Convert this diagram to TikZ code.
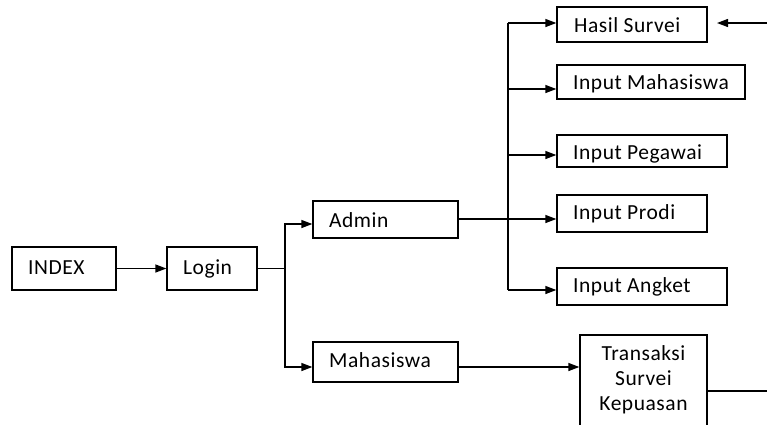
\documentclass[tikz,border=0pt]{standalone}
\usepackage{fontspec}
\setmainfont[LetterSpace=2.5]{Carlito}
\usetikzlibrary{arrows.meta,calc}
\tikzset{
  box/.style={draw=black, line width=1.3pt, rectangle, inner sep=0pt, fill=white},
  txt/.style={anchor=base west, inner sep=0pt, font=\fontsize{21.5}{25}\selectfont},
  ctxt/.style={anchor=base, inner sep=0pt, font=\fontsize{21.5}{25}\selectfont},
  ln/.style={line width=1.3pt, black},
  arr/.style={ln, -{Triangle[length=11pt,width=8pt]}},
}
\begin{document}
\begin{tikzpicture}[x=1pt,y=-1pt]
\clip (0,0) rectangle (767,424);
\fill[white] (0,0) rectangle (767,424);
% boxes
\node[box, minimum width=104pt, minimum height=43pt] (index) at (64,268.5) {};
\node[box, minimum width=90pt, minimum height=43pt] (login) at (212,268.5) {};
\node[box, minimum width=145pt, minimum height=37pt] (admin) at (385.5,219.5) {};
\node[box, minimum width=145pt, minimum height=40pt] (mhs) at (385.5,362) {};
\node[box, minimum width=150pt, minimum height=35pt] (hasil) at (632,24.5) {};
\node[box, minimum width=188pt, minimum height=34pt] (inmhs) at (651,82) {};
\node[box, minimum width=170pt, minimum height=32pt] (inpeg) at (642,151) {};
\node[box, minimum width=150pt, minimum height=37pt] (inprodi) at (632,213.5) {};
\node[box, minimum width=170pt, minimum height=37pt] (inangket) at (642,286.5) {};
\node[box, minimum width=127pt, minimum height=110pt] (trans) at (643.5,390) {};
% texts
\node[txt] (tindex) at (28,274) {INDEX};
\node[txt] (tlogin) at (183,274) {Login};
\node[txt] (tadmin) at (329,227) {Admin};
\node[txt] (tmhs) at (329,367) {Mahasiswa};
\node[txt] (thasil) at (574,32) {Hasil Survei};
\node[txt] (tinmhs) at (573,89) {Input Mahasiswa};
\node[txt] (tinpeg) at (573,159) {Input Pegawai};
\node[txt] (tinprodi) at (573,219) {Input Prodi};
\node[txt] (tinangket) at (573,292) {Input Angket};
\node[ctxt] (t1) at (643.5,360) {Transaksi};
\node[ctxt] (t2) at (643.5,385) {Survei};
\node[ctxt] (t3) at (643.5,410) {Kepuasan};
% coordinates
\coordinate (j1) at (285,268.5);
\coordinate (bus) at (508,23);
\coordinate (busend) at (508,290);
\coordinate (hasilin) at (717,23);
\coordinate (rightedge1) at (790,23);
\coordinate (rightedge2) at (790,391);
% connectors
\draw[arr] (index.east) -- (login.west);
\draw[ln] (login.east) -- (j1);
\draw[arr] (j1) |- ($(admin.west)+(0,224-219.5)$);
\draw[arr] (j1) |- ($(mhs.west)+(0,367-362)$);
\draw[arr] ($(admin.east)+(0,-0.5)$) -- ($(inprodi.west)+(0,219-213.5)$);
\draw[ln] (bus) -- (busend);
\draw[arr] (bus) -- ($(hasil.west)+(0,-1.5)$);
\draw[arr] (508,89) -- ($(inmhs.west)+(0,7)$);
\draw[arr] (508,155) -- ($(inpeg.west)+(0,4)$);
\draw[arr] (busend) -- ($(inangket.west)+(0,3.5)$);
\draw[arr] ($(mhs.east)+(0,5)$) -- ($(trans.west)+(0,-23)$);
\draw[ln] ($(trans.east)+(0,1)$) -- (rightedge2);
\draw[arr] (rightedge1) -- (hasilin);
\end{tikzpicture}
\end{document}
